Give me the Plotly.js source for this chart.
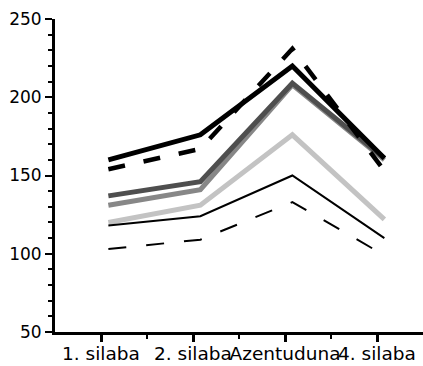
<!DOCTYPE html>
<html>
<head>
<meta charset="utf-8">
<script src="https://cdn.plot.ly/plotly-3.0.1.min.js"></script>
<style>html,body{margin:0;padding:0;background:#fff;}#chart{width:423px;height:366px;}</style>
</head>
<body>
<div id="chart"></div>
<script>
var categories = ['1. silaba', '2. silaba', 'Azentuduna', '4. silaba'];
var catIndex = [0, 1, 2, 3];
var thickSolid = [160, 176, 220, 161];
var thickDash  = [154, 167, 231, 153];
var darkGray   = [137, 146, 209, 161];
var midGray    = [131, 141, 208, 160];
var lightGray  = [120, 131, 176, 122];
var thinSolid  = [118, 124, 150, 110];
var thinDash   = [103, 109, 133, 99];
var yTicks = [50, 100, 150, 200, 250];

function tr(y, color, width, dash) {
  return {x: catIndex, y: y, type: 'scatter', mode: 'lines', xaxis: 'x', yaxis: 'y',
    line: {color: color, width: width, dash: dash || 'solid'}, hoverinfo: 'none', showlegend: false};
}
var data = [
  tr(lightGray, '#c3c3c3', 5),
  tr(midGray, '#878787', 5),
  tr(darkGray, '#4e4e4e', 5),
  tr(thinDash, '#000', 2, '18px,20px'),
  tr(thinSolid, '#000', 2),
  tr(thickSolid, '#000', 5),
  tr(thickDash, '#000', 4.5, '17px,19px'),
  {x: [], y: [], xaxis: 'x2', yaxis: 'y', type: 'scatter', showlegend: false}
];
var yfont = {family: 'DejaVu Sans', size: 17, color: '#000'};
var xfont = {family: 'DejaVu Sans', size: 18.5, color: '#000'};
var layout = {
  width: 423, height: 366,
  margin: {l: 55, r: 0, t: 19, b: 34},
  paper_bgcolor: '#fff', plot_bgcolor: '#fff',
  font: yfont,
  showlegend: false,
  xaxis: {range: [-0.58, 3.42], visible: false, fixedrange: true},
  xaxis2: {overlaying: 'x', side: 'bottom', range: [-0.5, 3.5], tickmode: 'array',
    tickvals: catIndex, ticktext: categories, tickangle: 0, ticklabelstandoff: -4,
    ticks: 'outside', ticklen: 7, tickwidth: 3, tickcolor: '#000',
    showline: true, linewidth: 3, linecolor: '#000', showgrid: false, zeroline: false,
    tickfont: xfont,
    minor: {tickmode: 'array', tickvals: [0.5, 1.5, 2.5], ticks: 'outside', ticklen: 4, tickwidth: 2, tickcolor: '#000'}},
  yaxis: {range: [50, 250], tickmode: 'array', tickvals: yTicks,
    ticks: 'outside', ticklen: 7, tickwidth: 2, tickcolor: '#000',
    showline: true, linewidth: 3, linecolor: '#000', showgrid: false, zeroline: false,
    tickfont: yfont,
    minor: {dtick: 10, tick0: 50, ticks: 'outside', ticklen: 4, tickwidth: 2, tickcolor: '#000'}}
};
Plotly.newPlot('chart', data, layout, {staticPlot: true, displayModeBar: false});
</script>
</body>
</html>
